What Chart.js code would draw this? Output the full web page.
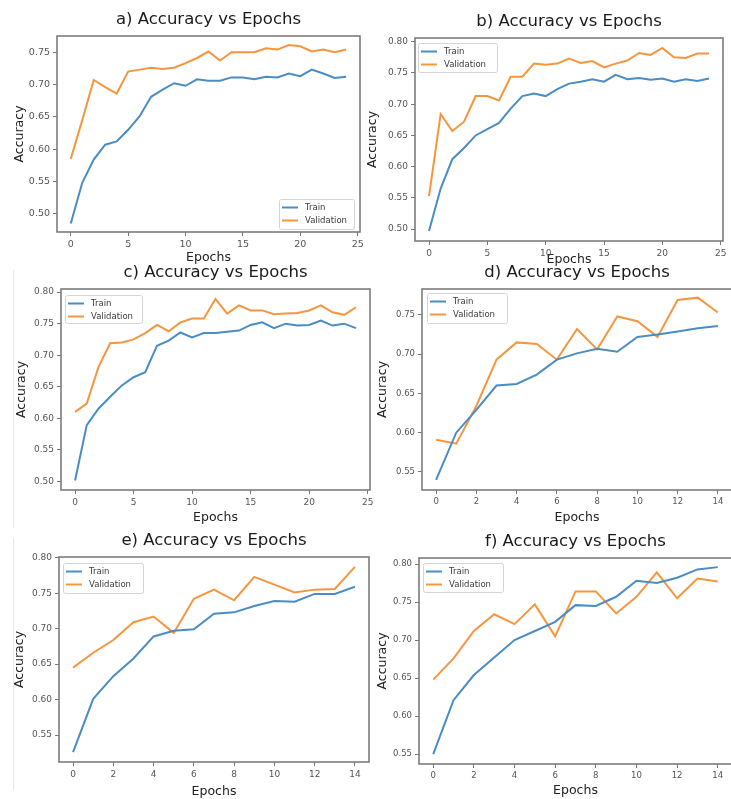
<!DOCTYPE html>
<html><head><meta charset="utf-8">
<script src="https://cdn.jsdelivr.net/npm/chart.js@4.4.1/dist/chart.umd.min.js"></script>
<style>
html,body{margin:0;padding:0;background:#fff;width:731px;height:799px;overflow:hidden;position:relative}
canvas{position:absolute}
.rule{position:absolute;left:13px;width:1px;background:#e8e8e8}
</style></head><body>
<div class="rule" style="top:270px;height:258px"></div>
<div class="rule" style="top:538px;height:252px"></div>
<canvas id="ca"></canvas><canvas id="cb"></canvas><canvas id="cc"></canvas>
<canvas id="cd"></canvas><canvas id="ce"></canvas><canvas id="cf"></canvas>
<script>
// ---------- data ----------
const seriesNames = ['Train', 'Validation'];
const epochs25 = [0,1,2,3,4,5,6,7,8,9,10,11,12,13,14,15,16,17,18,19,20,21,22,23,24];
const epochs15 = [0,1,2,3,4,5,6,7,8,9,10,11,12,13,14];
const xTicks25 = [0,5,10,15,20,25];
const xTicks15 = [0,2,4,6,8,10,12,14];
const yTicks50to75 = [0.50,0.55,0.60,0.65,0.70,0.75];
const yTicks50to80 = [0.50,0.55,0.60,0.65,0.70,0.75,0.80];
const yTicks55to75 = [0.55,0.60,0.65,0.70,0.75];
const yTicks55to80 = [0.55,0.60,0.65,0.70,0.75,0.80];

const trainA = [0.485,0.548,0.584,0.607,0.612,0.630,0.651,0.681,0.692,0.702,0.698,0.708,0.706,0.706,0.711,0.711,0.708,0.712,0.711,0.717,0.713,0.723,0.717,0.710,0.712];
const valA   = [0.585,0.645,0.707,0.696,0.686,0.720,0.723,0.726,0.724,0.726,0.733,0.741,0.751,0.737,0.750,0.750,0.750,0.756,0.754,0.761,0.759,0.751,0.754,0.750,0.754];

const trainB = [0.497,0.565,0.612,0.630,0.650,0.660,0.670,0.693,0.713,0.717,0.713,0.724,0.733,0.736,0.740,0.736,0.747,0.740,0.742,0.739,0.741,0.736,0.740,0.737,0.741];
const valB   = [0.553,0.684,0.657,0.672,0.713,0.713,0.706,0.744,0.744,0.765,0.763,0.765,0.773,0.766,0.769,0.759,0.765,0.770,0.782,0.779,0.790,0.775,0.774,0.781,0.781];

const trainC = [0.501,0.589,0.615,0.634,0.652,0.665,0.673,0.715,0.723,0.736,0.728,0.735,0.735,0.737,0.739,0.748,0.752,0.743,0.750,0.747,0.748,0.755,0.747,0.750,0.743];
const valC   = [0.610,0.623,0.681,0.719,0.720,0.725,0.735,0.748,0.738,0.752,0.758,0.758,0.789,0.766,0.779,0.771,0.771,0.765,0.766,0.767,0.771,0.779,0.768,0.764,0.776];

const trainD = [0.540,0.600,0.629,0.660,0.662,0.674,0.693,0.701,0.707,0.703,0.722,0.725,0.729,0.733,0.736];
const valD   = [0.591,0.586,0.634,0.693,0.715,0.713,0.693,0.732,0.706,0.748,0.742,0.722,0.769,0.772,0.753];

const trainE = [0.526,0.601,0.633,0.658,0.689,0.697,0.699,0.721,0.723,0.732,0.739,0.738,0.749,0.749,0.759];
const valE   = [0.645,0.666,0.684,0.709,0.717,0.694,0.742,0.755,0.740,0.773,0.762,0.751,0.755,0.756,0.787];

const trainF = [0.550,0.621,0.654,0.677,0.700,0.712,0.724,0.746,0.745,0.757,0.778,0.775,0.782,0.793,0.796];
const valF   = [0.648,0.676,0.712,0.734,0.721,0.747,0.705,0.764,0.764,0.735,0.757,0.789,0.755,0.781,0.777];

const titles = ['a) Accuracy vs Epochs','b) Accuracy vs Epochs','c) Accuracy vs Epochs',
                'd) Accuracy vs Epochs','e) Accuracy vs Epochs','f) Accuracy vs Epochs'];
const xAxisName = 'Epochs';
const yAxisName = 'Accuracy';

// ---------- styling / layout ----------
const BLUE = '#4a8cc4', ORANGE = '#f5963f';
const FONT = "'DejaVu Sans', sans-serif";
Chart.defaults.font.family = FONT;
const YW = 48, TH = 34, XH = 40, RP = 8;

const frame = {
  id: 'frame',
  afterDatasetsDraw(chart) {
    const {ctx, chartArea: a} = chart;
    ctx.save();
    ctx.strokeStyle = '#7c7c7c'; ctx.lineWidth = 1.6;
    ctx.strokeRect(a.left, a.top, a.right - a.left, a.bottom - a.top);
    ctx.restore();
  }
};
const boxLegend = {
  id: 'boxLegend',
  afterDraw(chart, args, o) {
    const {ctx, chartArea: a} = chart;
    const w = o.w, h = o.h;
    const x = o.corner === 'br' ? a.right + o.dx - w : a.left + o.dx;
    const y = o.corner === 'br' ? a.bottom + o.dy - h : a.top + o.dy;
    ctx.save();
    ctx.beginPath();
    ctx.roundRect(x + 0.5, y + 0.5, w, h, 2);
    ctx.fillStyle = 'rgba(255,255,255,0.85)'; ctx.fill();
    ctx.strokeStyle = '#d4d4d4'; ctx.lineWidth = 1; ctx.stroke();
    ctx.font = '8.5px ' + FONT; ctx.textBaseline = 'middle';
    chart.data.datasets.forEach((ds, i) => {
      const yy = y + 8.5 + i * 13;
      ctx.strokeStyle = ds.borderColor; ctx.lineWidth = 2;
      ctx.beginPath(); ctx.moveTo(x + 3, yy); ctx.lineTo(x + 19, yy); ctx.stroke();
      ctx.fillStyle = '#3a3a3a';
      ctx.fillText(ds.label, x + 26, yy);
    });
    ctx.restore();
  }
};

const panels = [
  {id:'ca', title:titles[0], x:epochs25, train:trainA, val:valA, xticks:xTicks25, yticks:yTicks50to75,
   box:[57,36,360,232], xmin:-1.2, xmax:25.2, ymin:0.472, ymax:0.775, tf:9.5, ytp:3.5, xtp:6.5,
   legend:{corner:'br', dx:-6, dy:-3, w:75, h:30}},
  {id:'cb', title:titles[1], x:epochs25, train:trainB, val:valB, xticks:xTicks25, yticks:yTicks50to80,
   box:[415,38,723,241], xmin:-1.2, xmax:25.2, ymin:0.481, ymax:0.806, tf:9, ytp:-1.5, xtp:14,
   legend:{corner:'tl', dx:3, dy:5, w:79, h:29}},
  {id:'cc', title:titles[2], x:epochs25, train:trainC, val:valC, xticks:xTicks25, yticks:yTicks50to80,
   box:[61,289,370,490], xmin:-1.2, xmax:25.2, ymin:0.486, ymax:0.805, tf:9, ytp:1.5, xtp:4.5,
   legend:{corner:'tl', dx:4, dy:6, w:77, h:28}},
  {id:'cd', title:titles[3], x:epochs15, train:trainD, val:valD, xticks:xTicks15, yticks:yTicks55to75,
   box:[422,289,732,490], xmin:-0.7, xmax:14.7, ymin:0.527, ymax:0.783, tf:8.5, ytp:1.5, xtp:4.5,
   legend:{corner:'tl', dx:5, dy:4, w:80, h:30}},
  {id:'ce', title:titles[4], x:epochs15, train:trainE, val:valE, xticks:xTicks15, yticks:yTicks55to80,
   box:[59,557,369,762], xmin:-0.7, xmax:14.7, ymin:0.512, ymax:0.801, tf:9, ytp:1.5, xtp:2.5,
   legend:{corner:'tl', dx:4, dy:6, w:80, h:30}},
  {id:'cf', title:titles[5], x:epochs15, train:trainF, val:valF, xticks:xTicks15, yticks:yTicks55to80,
   box:[419,558,732,764], xmin:-0.7, xmax:14.7, ymin:0.537, ymax:0.808, tf:8.5, ytp:4.5, xtp:5.5,
   legend:{corner:'tl', dx:4, dy:5, w:80, h:29}}
];

function makeChart(P) {
  const [L, T, R, B] = P.box;
  const cv = document.getElementById(P.id);
  const W = (R - L) + YW + RP, H = (B - T) + TH + XH;
  cv.width = W; cv.height = H;
  cv.style.left = (L - YW) + 'px'; cv.style.top = (T - TH) + 'px';
  cv.style.width = W + 'px'; cv.style.height = H + 'px';
  const tickStyle = {color:'#555', font:{size:P.tf}};
  const gridStyle = {drawOnChartArea:false, drawTicks:true, tickLength:4, color:'#777', lineWidth:1};
  new Chart(cv, {
    type: 'line',
    data: {datasets: [
      {label: seriesNames[0], data: P.x.map((e, i) => ({x: e, y: P.train[i]})),
       borderColor: BLUE, backgroundColor: BLUE, borderWidth: 2, pointRadius: 0, tension: 0, fill: false},
      {label: seriesNames[1], data: P.x.map((e, i) => ({x: e, y: P.val[i]})),
       borderColor: ORANGE, backgroundColor: ORANGE, borderWidth: 2, pointRadius: 0, tension: 0, fill: false}
    ]},
    options: {
      responsive: false, animation: false, devicePixelRatio: 1,
      layout: {padding: {left: 0, top: 0, right: RP, bottom: 0}},
      plugins: {
        legend: {display: false}, tooltip: {enabled: false},
        title: {display: true, text: P.title, fullSize: false, color: '#1a1a1a',
                font: {size: 16.5, weight: 'normal'}, padding: {top: TH - 19.8 - 6, bottom: 6}},
        boxLegend: P.legend
      },
      scales: {
        x: {type: 'linear', min: P.xmin, max: P.xmax,
            afterFit: s => { s.height = XH; },
            afterBuildTicks: s => { s.ticks = P.xticks.map(v => ({value: v})); },
            ticks: Object.assign({padding: 3, maxRotation: 0, autoSkip: false, callback: v => String(v)}, tickStyle),
            grid: gridStyle, border: {display: false},
            title: {display: true, text: xAxisName, color: '#222', font: {size: 12.5}, padding: {top: 0, bottom: P.xtp}}},
        y: {type: 'linear', min: P.ymin, max: P.ymax,
            afterFit: s => { s.width = YW; },
            afterBuildTicks: s => { s.ticks = P.yticks.map(v => ({value: v})); },
            ticks: Object.assign({padding: 3, autoSkip: false, callback: v => Number(v).toFixed(2)}, tickStyle),
            grid: gridStyle, border: {display: false},
            title: {display: true, text: yAxisName, color: '#222', font: {size: 12.5}, padding: {top: P.ytp, bottom: 0}}}
      }
    },
    plugins: [frame, boxLegend]
  });
}
panels.forEach(makeChart);
</script>
</body></html>
